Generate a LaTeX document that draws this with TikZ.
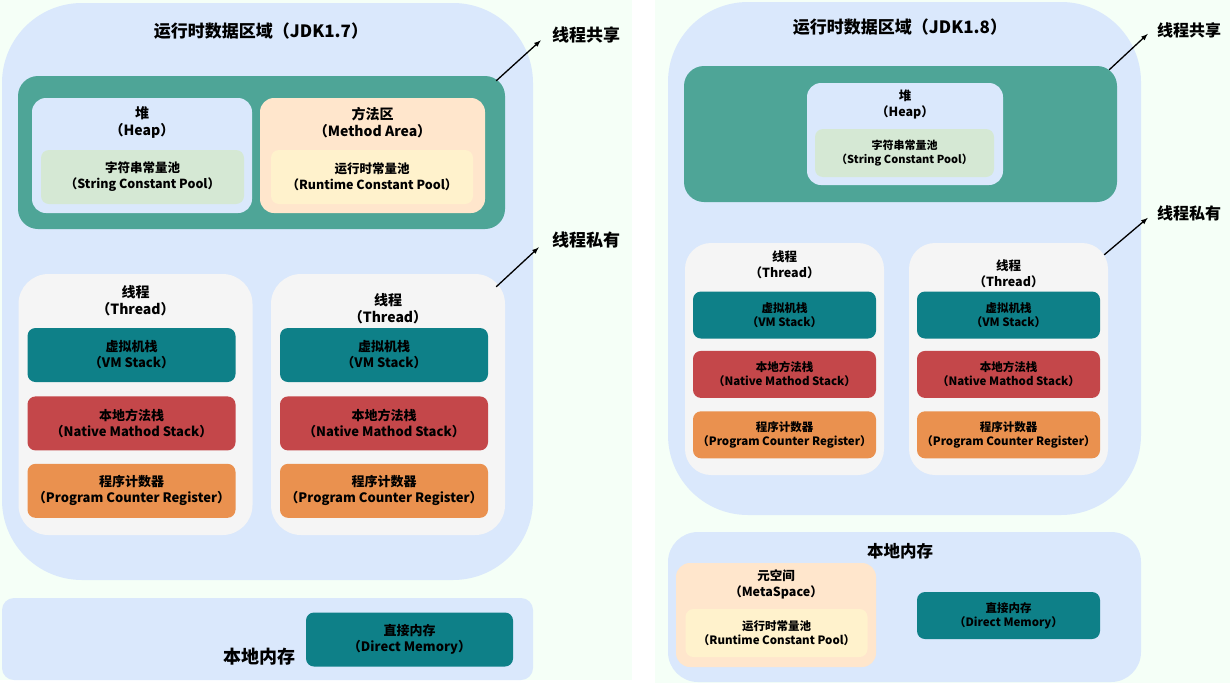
\documentclass[tikz,border=0pt]{standalone}
\usepackage{fontspec}
\setmainfont{Noto Sans CJK SC}
\usetikzlibrary{positioning}

\definecolor{mintbg}{HTML}{F5FFF7}
\definecolor{regionblue}{HTML}{DAE8FC}
\definecolor{sharedgreen}{HTML}{4EA597}
\definecolor{spoolgreen}{HTML}{D5E8D4}
\definecolor{methodpeach}{HTML}{FFE6CC}
\definecolor{rpoolyellow}{HTML}{FFF2CC}
\definecolor{threadgray}{HTML}{F5F5F5}
\definecolor{vmteal}{HTML}{0E8088}
\definecolor{nativered}{HTML}{C4474A}
\definecolor{pcorange}{HTML}{EA914F}

\begin{document}
\begin{tikzpicture}[x=1pt, y=-1pt, >=latex,
        every node/.append style={inner sep=0pt, align=center},
        txtL/.style={font=\bfseries\fontsize{13}{16}\selectfont},
        txtS/.style={font=\bfseries\fontsize{11.5}{14}\selectfont}]
      \tikzstyle{region} = [fill=regionblue, rounded corners=80pt]
      \tikzstyle{shared} = [fill=sharedgreen, rounded corners=20pt]
      \tikzstyle{heapbox} = [fill=regionblue, rounded corners=14pt]
      \tikzstyle{methodbox} = [fill=methodpeach, rounded corners=14pt]
      \tikzstyle{spool} = [fill=spoolgreen, rounded corners=8pt]
      \tikzstyle{rpool} = [fill=rpoolyellow, rounded corners=8pt]
      \tikzstyle{thread} = [fill=threadgray, rounded corners=30pt]
      \tikzstyle{vmstack} = [fill=vmteal, rounded corners=8pt]
      \tikzstyle{nativestack} = [fill=nativered, rounded corners=8pt]
      \tikzstyle{pcreg} = [fill=pcorange, rounded corners=8pt]
      \tikzstyle{stackA} = [txtL, minimum width=208pt, minimum height=54pt]
      \tikzstyle{stackB} = [txtS, minimum width=183pt, minimum height=47pt]
      \tikzstyle{sidelbl} = [font=\bfseries\fontsize{17}{20}\selectfont]
      \useasboundingbox (0,0) rectangle (1230,683);
      \fill[mintbg] (0,0) rectangle (632,680);
      \fill[mintbg] (655,0) rectangle (1230,683);

      % JDK 1.7
      \node (rt17) [region, minimum width=531pt, minimum height=577pt] at (267.5,291.5) {};
      \node (title17) [font=\bfseries\fontsize{17}{20}\selectfont] at (261,31) {运行时数据区域（JDK1.7）};
      \node (shared17) [shared, minimum width=487pt, minimum height=153pt] at (261.5,152.5) {};
      \node (heap17) [heapbox, minimum width=220pt, minimum height=115pt] at (142,155.5) {};
      \node [font=\bfseries\fontsize{14}{17}\selectfont] at ([yshift=-24.5pt]heap17.north) {堆\\（Heap）};
      \node (spool17) [spool, txtL, font=\bfseries\fontsize{12.5}{16}\selectfont, minimum width=203pt, minimum height=54pt] at (142.5,177) {字符串常量池\\（String Constant Pool）};
      \node (method17) [methodbox, minimum width=225pt, minimum height=115pt] at (372.5,155.5) {};
      \node [font=\bfseries\fontsize{14}{17}\selectfont] at ([yshift=-24.5pt]method17.north) {方法区\\（Method Area）};
      \node (rpool17) [rpool, font=\bfseries\fontsize{12.5}{16}\selectfont, minimum width=202pt, minimum height=54pt] at (372,177) {运行时常量池\\（Runtime Constant Pool）};

      \node (th17a) [thread, minimum width=234pt, minimum height=261pt] at (135.5,404.5) {};
      \node [font=\bfseries\fontsize{14}{17}\selectfont] at ([yshift=-26.5pt]th17a.north) {线程\\（Thread）};
      \node (vm17a) [vmstack, stackA] at (131.5,355) {虚拟机栈\\（VM Stack）};
      \node (nat17a) [nativestack, stackA, below=14pt of vm17a] {本地方法栈\\（Native Mathod Stack）};
      \node (pc17a) [pcreg, stackA, below=13pt of nat17a] {程序计数器\\（Program Counter Register）};

      \node (th17b) [thread, minimum width=234pt, minimum height=261pt] at (388,404.5) {};
      \node [font=\bfseries\fontsize{14}{17}\selectfont] at ([yshift=-35pt]th17b.north) {线程\\（Thread）};
      \node (vm17b) [vmstack, stackA] at (384,355) {虚拟机栈\\（VM Stack）};
      \node (nat17b) [nativestack, stackA, below=14pt of vm17b] {本地方法栈\\（Native Mathod Stack）};
      \node (pc17b) [pcreg, stackA, below=13pt of nat17b] {程序计数器\\（Program Counter Register）};

      \node (nm17) [fill=regionblue, rounded corners=12pt, minimum width=531pt, minimum height=82pt] at (267.5,639) {};
      \node (dm17) [vmstack, stackA, minimum width=207pt] at (409.5,639.5) {直接内存\\（Direct Memory）};
      \node (nmlbl17) [font=\bfseries\fontsize{18}{20}\selectfont] at (259,657) {本地内存};

      \node (sharedlbl17) [sidelbl] at (586,35) {线程共享};
      \node (privlbl17) [sidelbl] at (586,240) {线程私有};
      \draw[->, line width=1.3pt] ([shift={(-9,5)}]shared17.north east) -- ([shift={(-11,-3)}]sharedlbl17.south west);
      \draw[->, line width=1.3pt] ([shift={(-9,13)}]th17b.north east) -- ([shift={(-13,-1)}]privlbl17.south west);

      % JDK 1.8
      \node (rt18) [region, minimum width=473pt, minimum height=513pt] at (904.5,258.5) {};
      \node (title18) [font=\bfseries\fontsize{17}{20}\selectfont] at (900,27) {运行时数据区域（JDK1.8）};
      \node (shared18) [shared, minimum width=433pt, minimum height=136pt] at (900.5,134) {};
      \node (heap18) [heapbox, minimum width=196pt, minimum height=102pt] at (905,134) {};
      \node [font=\bfseries\fontsize{12.5}{16}\selectfont] at ([yshift=-22pt]heap18.north) {堆\\（Heap）};
      \node (spool18) [spool, font=\bfseries\fontsize{11}{14}\selectfont, minimum width=179pt, minimum height=48pt] at (904.5,153) {字符串常量池\\（String Constant Pool）};

      \node (th18a) [thread, rounded corners=26pt, minimum width=199pt, minimum height=232pt] at (784.5,359) {};
      \node [font=\bfseries\fontsize{12.5}{16}\selectfont] at ([yshift=-22pt]th18a.north) {线程\\（Thread）};
      \node (vm18a) [vmstack, stackB] at (784.5,315) {虚拟机栈\\（VM Stack）};
      \node (nat18a) [nativestack, stackB, below=12pt of vm18a] {本地方法栈\\（Native Mathod Stack）};
      \node (pc18a) [pcreg, stackB, below=13pt of nat18a] {程序计数器\\（Program Counter Register）};

      \node (th18b) [thread, rounded corners=26pt, minimum width=199pt, minimum height=232pt] at (1008.5,359) {};
      \node [font=\bfseries\fontsize{12.5}{16}\selectfont] at ([yshift=-30.5pt]th18b.north) {线程\\（Thread）};
      \node (vm18b) [vmstack, stackB] at (1008.5,315) {虚拟机栈\\（VM Stack）};
      \node (nat18b) [nativestack, stackB, below=12pt of vm18b] {本地方法栈\\（Native Mathod Stack）};
      \node (pc18b) [pcreg, stackB, below=13pt of nat18b] {程序计数器\\（Program Counter Register）};

      \node (nm18) [fill=regionblue, rounded corners=30pt, minimum width=473pt, minimum height=150pt] at (904.5,607) {};
      \node (nmlbl18) [font=\bfseries\fontsize{16.5}{20}\selectfont] at (900,551) {本地内存};
      \node (meta18) [methodbox, minimum width=200pt, minimum height=104pt] at (776,615) {};
      \node [font=\bfseries\fontsize{12.5}{16}\selectfont] at ([yshift=-22pt]meta18.north) {元空间\\（MetaSpace）};
      \node (rpool18) [rpool, txtS, minimum width=182pt, minimum height=48pt] at (776.5,633) {运行时常量池\\（Runtime Constant Pool）};
      \node (dm18) [vmstack, stackB] at (1008.5,615.5) {直接内存\\（Direct Memory）};

      \node (sharedlbl18) [sidelbl, font=\bfseries\fontsize{16}{20}\selectfont] at (1189,30) {线程共享};
      \node (privlbl18) [sidelbl, font=\bfseries\fontsize{16}{20}\selectfont] at (1189,213) {线程私有};
      \draw[->, line width=1.3pt] ([shift={(-8,4)}]shared18.north east) -- ([shift={(-9,-4)}]sharedlbl18.south west);
      \draw[->, line width=1.3pt] ([shift={(-4,12)}]th18b.north east) -- ([shift={(-9,-3)}]privlbl18.south west);
    \end{tikzpicture}
\end{document}
